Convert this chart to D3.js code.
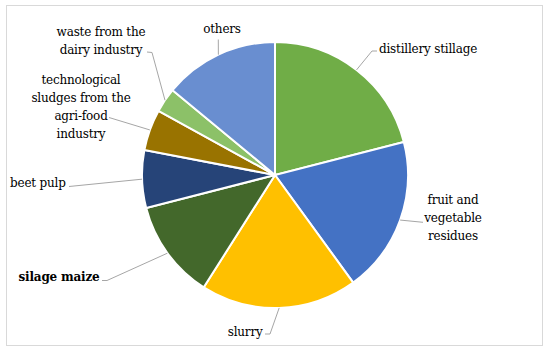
<!DOCTYPE html>
<html>
<head>
<meta charset="utf-8">
<script src="https://cdn.jsdelivr.net/npm/d3@7"></script>
<style>
    body { margin: 0; background: #fff; }
</style>
</head>
<body>
<div id="chart"></div>
<script>
// slices, clockwise from 12 o'clock
const categories = ["distillery stillage", "fruit and vegetable residues", "slurry", "silage maize",
    "beet pulp", "technological sludges from the agri-food industry", "waste from the dairy industry", "others"];
const shares = [21, 19, 19, 12, 7, 5, 3, 14];
const colors = ["#70AD47", "#4472C4", "#FFC000", "#43682B", "#264478", "#997300", "#8CC168", "#698ED0"];
const labelLines = [
    ["distillery stillage"],
    ["fruit and", "vegetable", "residues"],
    ["slurry"],
    ["silage maize"],
    ["beet pulp"],
    ["technological", "sludges from the", "agri-food", "industry"],
    ["waste from the", "dairy industry"],
    ["others"]
];

const width = 550;
const height = 353;
const cx = 275, cy = 175, radius = 133;

// label placement: x, first baseline, anchor, leader path points after the arc point
const labelLayout = [
    { x: 379, y: 52.7, anchor: "start", leader: [[372, 51], [377, 51]] },
    { x: 453, y: 204, anchor: "middle", leader: [[423, 222.3]] },
    { x: 262.5, y: 335.7, anchor: "end", leader: [[270, 334], [265, 334]] },
    { x: 99.5, y: 281, anchor: "end", leader: [[107, 280.5], [102, 280.5]], bold: true },
    { x: 10, y: 186.7, anchor: "start", leader: [[69, 186.5]] },
    { x: 81, y: 84, anchor: "middle", leader: [[109, 117.5]] },
    { x: 101, y: 35.7, anchor: "middle", leader: [[152, 52.5], [147, 52]] },
    { x: 222, y: 32.5, anchor: "middle", leader: [[218.3, 39.5]] }
];
const lineHeight = 18;

const svg = d3.select("#chart").append("svg")
    .attr("width", width)
    .attr("height", height);

svg.append("rect")
    .attr("x", 6.5).attr("y", 5.5)
    .attr("width", 536).attr("height", 340)
    .attr("fill", "#fff")
    .attr("stroke", "#D9D9D9");

const pie = d3.pie().sort(null).value(d => d);
const arcs = pie(shares);
const arc = d3.arc().innerRadius(0).outerRadius(radius);

const g = svg.append("g").attr("transform", `translate(${cx},${cy})`);

g.selectAll("path.slice")
    .data(arcs)
    .enter().append("path")
    .attr("class", "slice")
    .attr("d", arc)
    .attr("fill", (d, i) => colors[i])
    .attr("stroke", "#fff")
    .attr("stroke-width", 2);

// leader lines start at the slice edge, mid-angle
const line = d3.line();
svg.selectAll("path.leader")
    .data(arcs)
    .enter().append("path")
    .attr("class", "leader")
    .attr("d", (d, i) => {
        const a = (d.startAngle + d.endAngle) / 2;
        const start = [cx + radius * Math.sin(a), cy - radius * Math.cos(a)];
        return line([start].concat(labelLayout[i].leader));
    })
    .attr("fill", "none")
    .attr("stroke", "#A6A6A6")
    .attr("stroke-width", 1);

const labels = svg.selectAll("text.label")
    .data(labelLines)
    .enter().append("text")
    .attr("class", "label")
    .attr("font-family", "DejaVu Serif")
    .attr("font-size", 12)
    .attr("letter-spacing", -0.2)
    .attr("fill", "#000")
    .attr("text-anchor", (d, i) => labelLayout[i].anchor)
    .attr("font-weight", (d, i) => labelLayout[i].bold ? "bold" : null);

labels.each(function(lines, i) {
    const lay = labelLayout[i];
    d3.select(this).selectAll("tspan")
        .data(lines)
        .enter().append("tspan")
        .attr("x", lay.x)
        .attr("y", (t, k) => lay.y + k * lineHeight)
        .text(t => t);
});
</script>
</body>
</html>
